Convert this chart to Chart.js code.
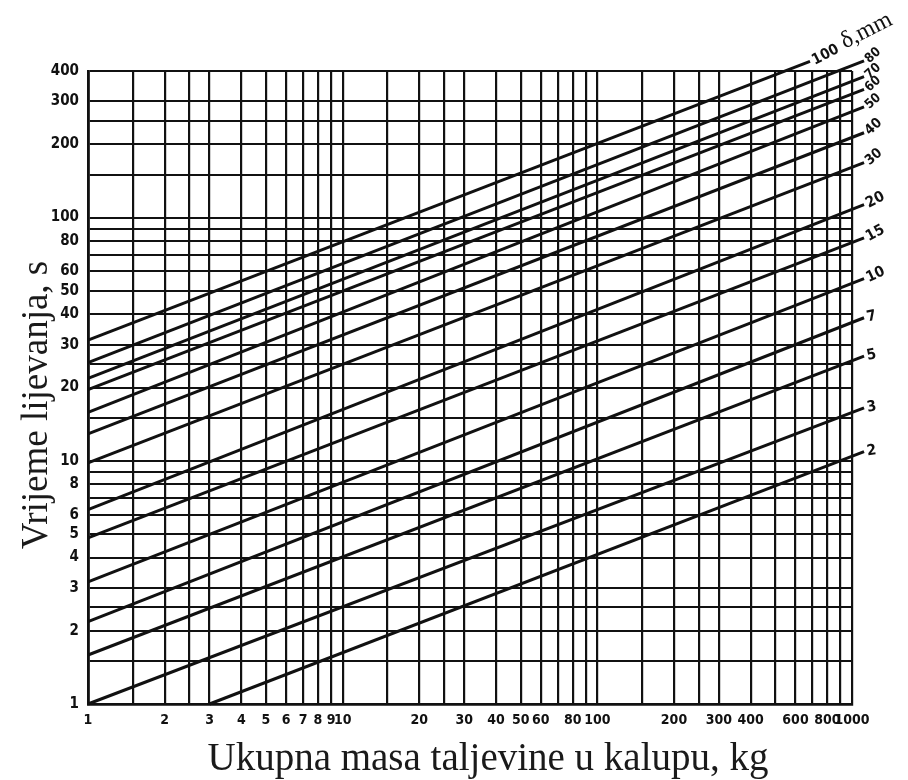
<!DOCTYPE html>
<html>
<head>
<meta charset="utf-8">
<script src="https://cdn.jsdelivr.net/npm/chart.js@4/dist/chart.umd.min.js"></script>
<style>
  html, body { margin: 0; padding: 0; background: #ffffff; }
  #wrap { width: 908px; height: 780px; position: relative; background: #ffffff; }
</style>
</head>
<body>
<div id="wrap"><canvas id="c" width="908" height="780"></canvas></div>
<script>
// ---- data ----
const deltas    = ['2', '3', '5', '7', '10', '15', '20', '30', '40', '50', '60', '70', '80', '100'];
const startMass = [3, 1, 1, 1, 1, 1, 1, 1, 1, 1, 1, 1, 1, 1];
const startTime = [1, 1, 1.59, 2.18, 3.18, 4.82, 6.3, 9.8, 12.9, 15.8, 19.6, 21.8, 25.3, 31.3];
const endMass   = [1115, 1115, 1115, 1115, 1115, 1115, 1115, 1115, 1115, 1115, 1115, 1115, 1115, 684];
const endTime   = [10.9, 16.5, 26.9, 38.7, 56, 82.5, 113, 168, 223, 285, 336, 379, 440, 438];

const xGridValues = [1, 1.5, 2, 2.5, 3, 4, 5, 6, 7, 8, 9, 10, 15, 20, 25, 30, 40, 50, 60, 70, 80, 90,
                     100, 150, 200, 250, 300, 400, 500, 600, 700, 800, 900, 1000];
const xTickLabels = [1, 2, 3, 4, 5, 6, 7, 8, 9, 10, 20, 30, 40, 50, 60, 80, 100, 200, 300, 400, 600, 800, 1000];
const yGridValues = [1, 1.5, 2, 2.5, 3, 4, 5, 6, 7, 8, 9, 10, 15, 20, 25, 30, 40, 50, 60, 70, 80, 90,
                     100, 150, 200, 250, 300, 400];
const yTickLabels = [1, 2, 3, 4, 5, 6, 8, 10, 20, 30, 40, 50, 60, 80, 100, 200, 300, 400];

const xTitle = 'Ukupna masa taljevine u kalupu, kg';
const yTitle = 'Vrijeme lijevanja, s';
const unitLabel = 'δ,mm';

// ---- styles ----
const INK = '#111111';
const FAMILY = "'DejaVu Sans Condensed', sans-serif";
const xTickFont = { family: FAMILY, size: 14, weight: 'bold' };
const yTickFont = { family: FAMILY, size: 15, weight: 'bold' };
const labelRotation = [-8, -10, -12, -12, -25, -28, -28, -40, -42, -42, -42, -42, -42, -27];
const labelSize     = [15, 15, 15, 15, 15, 15, 15, 14, 14, 13, 13, 13, 13, 15];

const datasets = deltas.map((d, i) => ({
  label: d,
  data: [{ x: startMass[i], y: startTime[i] }, { x: endMass[i], y: endTime[i] }],
  borderColor: INK,
  borderWidth: 3,
  pointRadius: 0,
  tension: 0,
  fill: false,
  clip: false
}));

const annotatePlugin = {
  id: 'annotate',
  afterDatasetsDraw(chart) {
    const ctx = chart.ctx;
    ctx.save();
    ctx.fillStyle = INK;
    chart.data.datasets.forEach((ds, i) => {
      const meta = chart.getDatasetMeta(i);
      const p = meta.data[meta.data.length - 1];
      ctx.save();
      ctx.translate(p.x + 3, p.y);
      ctx.rotate(labelRotation[i] * Math.PI / 180);
      ctx.font = `bold ${labelSize[i]}px ${FAMILY}`;
      ctx.textAlign = 'left';
      ctx.textBaseline = 'middle';
      ctx.fillText(ds.label, 0, 0);
      if (ds.label === '100') {
        const w = ctx.measureText(ds.label).width;
        ctx.font = "24px 'Liberation Serif', serif";
        ctx.fillText(unitLabel, w + 6, -3);
      }
      ctx.restore();
    });
    ctx.fillStyle = '#1a1a1a';
    ctx.font = "39px 'Liberation Serif', serif";
    ctx.textAlign = 'center';
    ctx.textBaseline = 'alphabetic';
    ctx.fillText(xTitle, 488, 770);
    ctx.save();
    ctx.translate(47, 405);
    ctx.rotate(-Math.PI / 2);
    ctx.font = "37px 'Liberation Serif', serif";
    ctx.fillText(yTitle, 0, 0);
    ctx.restore();
    ctx.restore();
  }
};

new Chart(document.getElementById('c'), {
  type: 'line',
  data: { datasets },
  options: {
    responsive: false,
    animation: false,
    devicePixelRatio: 1,
    layout: { padding: { top: 71, right: 56, left: 0, bottom: 0 } },
    plugins: { legend: { display: false }, tooltip: { enabled: false } },
    scales: {
      x: {
        type: 'logarithmic',
        min: 1, max: 1000,
        afterBuildTicks: (s) => { s.ticks = xGridValues.map(v => ({ value: v })); },
        afterFit: (s) => { s.height = 76; },
        ticks: {
          autoSkip: false, maxRotation: 0, minRotation: 0,
          padding: 8, color: INK, font: xTickFont,
          callback: (v) => xTickLabels.includes(v) ? String(v) : ''
        },
        grid: { color: INK, lineWidth: 2.2, drawTicks: false },
        border: { color: INK, width: 2.8 }
      },
      y: {
        type: 'logarithmic',
        min: 1, max: 400,
        afterBuildTicks: (s) => { s.ticks = yGridValues.map(v => ({ value: v })); },
        afterFit: (s) => { s.width = 88; },
        ticks: {
          autoSkip: false, padding: 9, color: INK, font: yTickFont,
          callback: (v) => yTickLabels.includes(v) ? String(v) : ''
        },
        grid: { color: INK, lineWidth: 1.9, drawTicks: false },
        border: { color: INK, width: 2.8 }
      }
    }
  },
  plugins: [annotatePlugin]
});
</script>
</body>
</html>
